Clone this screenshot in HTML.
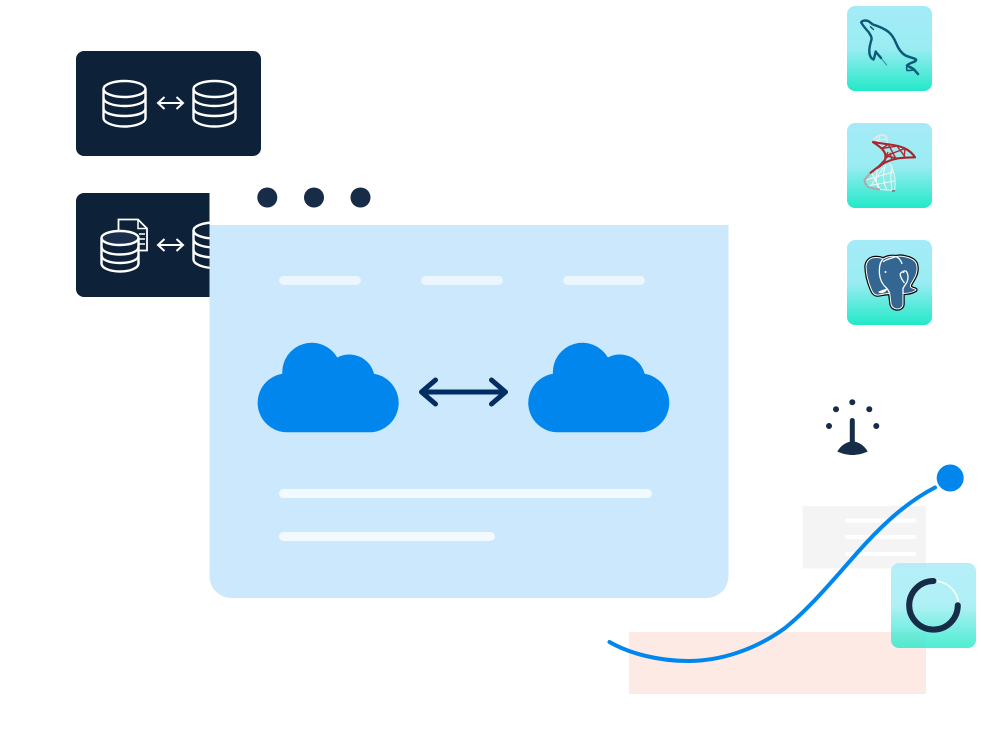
<!DOCTYPE html>
<html>
<head>
<meta charset="utf-8">
<style>
html,body{margin:0;padding:0;background:#fff;width:981px;height:739px;overflow:hidden}
svg{display:block}
</style>
</head>
<body>
<svg width="981" height="739" viewBox="0 0 981 739" xmlns="http://www.w3.org/2000/svg">
<defs>
<linearGradient id="g" x1="0" y1="0" x2="0" y2="1">
<stop offset="0" stop-color="#a5ebf8"/><stop offset=".5" stop-color="#9aecf2"/><stop offset="1" stop-color="#22e9c8"/>
</linearGradient>
<g id="db" fill="none" stroke="#fff" stroke-width="2.4">
<ellipse cx="22" cy="8.500" rx="21" ry="8"/>
<path d="M1 8.500V37.500C1 42 10.500 46 22 46S43 42 43 37.500V8.500"/>
<path d="M1 17.500C1 22 10.500 25.500 22 25.500S43 22 43 17.500"/>
<path d="M1 28C1 32.500 10.500 35.500 22 35.500S43 32.500 43 28"/>
</g>
<g id="ar" fill="none" stroke="#fff" stroke-width="2">
<path d="M1 7H26M7.500 1L1 7L7.500 13M19.500 1L26 7L19.500 13"/>
</g>
<path id="cloud" d="M287 432.300A29.500 29.500 0 0 1 282.300 373.700A29.500 29.500 0 0 1 337.300 357.500A25.500 25.500 0 0 1 374 373.700A29.500 29.500 0 0 1 369 432.300Z" fill="#0086ec"/>
</defs>

<!-- dark cards -->
<rect x="76" y="51" width="185" height="105" rx="8" fill="#0d2239"/>
<rect x="76" y="193" width="185" height="104" rx="8" fill="#0d2239"/>
<use href="#db" x="102.500" y="80.500"/>
<use href="#db" x="192.500" y="80.500"/>
<use href="#ar" x="157" y="96"/>
<use href="#ar" x="157" y="238"/>
<use href="#db" x="192.500" y="222"/>
<!-- doc + small db -->
<path d="M118.500 234V219.500H138L147 228.500V250.500H139" fill="#0d2239" stroke="#fff" stroke-width="1.800"/>
<path d="M138 219.500V228.500H147M139 234H145M139 239H145M139 244H145" fill="none" stroke="#fff" stroke-width="1.500"/>
<path d="M101.500 238V263.500C101.500 268 110 271.500 120 271.500S138.500 268 138.500 263.500V238" fill="#0d2239" stroke="#fff" stroke-width="2.400"/>
<ellipse cx="120" cy="238" rx="18.500" ry="7" fill="#1a2f4a" stroke="#fff" stroke-width="2.400"/>
<path d="M101.500 247C101.500 251.500 110 254.500 120 254.500S138.500 251.500 138.500 247M101.500 255.500C101.500 260 110 263 120 263S138.500 260 138.500 255.500" fill="none" stroke="#fff" stroke-width="2.400"/>

<!-- window -->
<rect x="209.500" y="170" width="530" height="56" fill="#fff"/>
<path d="M209.500 225H728.500V576A22 22 0 0 1 706.500 598H231.500A22 22 0 0 1 209.500 576Z" fill="#cbe8fd"/>
<circle cx="267.300" cy="197.500" r="10" fill="#162c47"/>
<circle cx="314" cy="197.500" r="10" fill="#162c47"/>
<circle cx="360.500" cy="197.500" r="10" fill="#162c47"/>
<g fill="#fff" fill-opacity=".62">
<rect x="279" y="276" width="82" height="9" rx="4.500"/>
<rect x="421" y="276" width="82" height="9" rx="4.500"/>
<rect x="563" y="276" width="82" height="9" rx="4.500"/>
</g>
<rect x="279" y="489" width="373" height="9" rx="4.500" fill="#fff" fill-opacity=".75"/>
<rect x="279" y="532" width="216" height="9" rx="4.500" fill="#fff" fill-opacity=".75"/>
<use href="#cloud"/>
<use href="#cloud" x="270.600"/>
<path d="M421.500 392H505.500M435.500 380L421.500 392L435.500 404M491.500 380L505.500 392L491.500 404" fill="none" stroke="#002d62" stroke-width="5" stroke-linecap="round" stroke-linejoin="round"/>

<!-- tiles -->
<rect x="847" y="6" width="85" height="85" rx="8" fill="url(#g)"/>
<rect x="847" y="123" width="85" height="85" rx="8" fill="url(#g)"/>
<rect x="847" y="240" width="85" height="85" rx="8" fill="url(#g)"/>

<!-- dolphin -->
<g fill="none" stroke="#0a5a78" stroke-linejoin="round" stroke-linecap="round">
<path d="M861.300 22.500C862 20.500 865 20.300 867.500 20.800C870 21.500 871 23.500 873 24.500C877 26 882 27 888 31.500C892 34.500 894 38 896 43C898 48 901 53 905.500 55.500C909 57.300 913 57.500 916 59.500C916.500 61 914 62 911 63C909.500 63.500 908 64.500 907 65.500C909 67 912 67.500 914 69.500C915.500 71 916.500 72.500 918 74" stroke-width="2.500"/>
<path d="M861.300 22.500C863 26 866 29 868.500 32C870.500 35 872 37 871.500 39.500C870.500 43 869.500 46 869.300 50C869.200 54 870 58 873.500 59.500C874.500 58 875 54 875.700 51.500C877 53.500 879 55.500 881 58" stroke-width="2.400"/>
<path d="M881 58L886.700 65" stroke-width="1" stroke-opacity=".6"/>
<path d="M907 65.500C906.500 67.500 906.500 69 907 70.500C910 70.500 913 70.500 914 69.500" stroke-width="1.600"/>
<path d="M870.500 26.800L873.500 29.500" stroke-width="1.400"/>
</g>

<!-- SQL server -->
<g fill="none" stroke-linejoin="round">
<path d="M872.300 141.700C876 136 880 134.500 885 135C886.500 137 887.300 140 887.500 144" stroke="#dfe6e9" stroke-width="2"/>
<path d="M876 137L881 147M880 135L878 145M886 139L875 141" stroke="#eceff0" stroke-width=".8"/>
<path d="M870 173.300L864.500 180C864.500 183 866 185 868 186.500C873 189 882 190 894.500 190.300C896 182 895 172 890 163.500" fill="#c6eef2" fill-opacity=".3" stroke="#f0f3f4" stroke-width="1"/>
<path d="M878 168C875 176 876 184 879 189.500M886 165C882 172 883 183 887 190M892 167C890 174 891 183 892 190M866 180L893 172M868 186L894 181M871 172L880 189M884 167L870 187" fill="none" stroke="#f4f6f6" stroke-width="1"/>
<path d="M870 173.300L864.500 180C864.500 183 866 185 868 186.500C871 188 875 189 880 189.500" stroke="#a9adb2" stroke-width="2.200"/>
<path d="M892 190.800H895" stroke="#4a5a60" stroke-width="1.200"/>
<path d="M872.300 141.700C879 143 884 144 888.300 144.300C895 145 900 146 905 148.500C910 151 913 154 915 157.300C909 157.500 904 157.500 898.300 158.300C892 159.300 888 161 883.300 163.500C878 166.500 874 170 870 173.300" stroke="#a8252b" stroke-width="2.100"/>
<path d="M872.300 141.700C876 144 879 146 881.700 148.500C884 151 885.500 153 885.500 156C885.500 159 884.500 161.500 883.300 163.500C881 165.500 878 167.500 876.500 168.500" stroke="#a8252b" stroke-width="2.100"/>
<path d="M881.700 148.500L888.300 144.300L896 158.800M881.700 148.500L897 146M885.500 156L905 148.500M885.500 156L898.300 158.300M888 152L883.300 163.500M897 146L905.500 157.500M905 148.500L904 157.700M890 153L892 160M876.500 168.500L891 153" stroke="#b02a30" stroke-width="1.400"/>
</g>

<!-- elephant -->
<g stroke-linejoin="round">
<path d="M866 266C867 260 871 257.500 876 257.500C879 257.500 881.500 258 883 259C887 256.500 892 256 896 256.500C899 256 903 256 906 257C911 258 915 260.500 916.500 264C917.500 268 917 273 915 277C913.500 280 911.500 283 910.500 285C910 287 911.500 288 913.500 288.500C915.500 289 916.500 289.500 915.500 290.500C913 292 908 293.500 903 293.500V304C903 307 900.500 309 897.500 309C894 309 891.500 307 891 304L889.700 293.500C886 293.500 882 294.500 878.500 295C875.500 295.500 873 293.500 871.500 290C868.500 283 866 275 866 266Z" fill="#000" stroke="#000" stroke-width="3.400"/>
<path d="M866 266C867 260 871 257.500 876 257.500C879 257.500 881.500 258 883 259C887 256.500 892 256 896 256.500C899 256 903 256 906 257C911 258 915 260.500 916.500 264C917.500 268 917 273 915 277C913.500 280 911.500 283 910.500 285C910 287 911.500 288 913.500 288.500C915.500 289 916.500 289.500 915.500 290.500C913 292 908 293.500 903 293.500V304C903 307 900.500 309 897.500 309C894 309 891.500 307 891 304L889.700 293.500C886 293.500 882 294.500 878.500 295C875.500 295.500 873 293.500 871.500 290C868.500 283 866 275 866 266Z" fill="#336791" stroke="#fff" stroke-width="1"/>
<path d="M883 259C880 262 879 268 879.500 274C880 280 883 285 886.500 288C888 289.500 889 291.500 889.700 293.500M896 256.500C890 259 885 259.500 883 262M896 256.500C899 258 901 260 902 264M900 274C902 271.500 905 270 906.500 271.500C908 274 908.500 278 907 282C906 284 904 286 903 288.500V293.500M900 274C900.500 277 902 280 904.500 283" fill="none" stroke="#fff" stroke-width="1.300"/>
<path d="M878 292C880 290.500 884 289.500 887 288.500C887.500 290 886 291.500 884 292.500C882 293.500 880 293.500 878 292Z" fill="#fff"/>
<circle cx="885.500" cy="272" r="1" fill="#fff"/><circle cx="903.500" cy="272" r="1" fill="#fff"/>
</g>

<!-- lamp -->
<g fill="#162c47">
<circle cx="852.300" cy="402.300" r="3"/><circle cx="836" cy="409.300" r="3"/><circle cx="869.300" cy="409.300" r="3"/>
<circle cx="829" cy="426" r="3"/><circle cx="876.300" cy="426" r="3"/>
<rect x="849.800" y="418" width="5" height="27" rx="2.500"/>
<path d="M837.300 451.500C841 445 847 441.500 852.500 441.500S864 445 867.700 451.500C862 454 857 455 852.500 455S843 454 837.300 451.500Z"/>
</g>

<!-- chart -->
<rect x="802.500" y="506" width="123.500" height="62.500" fill="#f4f4f4"/>
<g fill="#fff">
<rect x="845" y="518.500" width="71.500" height="4" rx="2"/>
<rect x="845" y="535" width="71.500" height="4" rx="2"/>
<rect x="845" y="552" width="71.500" height="4" rx="2"/>
</g>
<rect x="629" y="632" width="297" height="62" fill="#fdeae5"/>
<path d="M609.500 642C630 654 660 661 688 661C720 661 755 650 785 628C810 608 835 578 857 553C880 527 905 503 935 487.500" fill="none" stroke="#0086ec" stroke-width="4" stroke-linecap="round"/>
<circle cx="950.200" cy="478" r="13.500" fill="#0086ec"/>

<!-- ring tile -->
<rect x="891" y="563" width="85" height="85" rx="8" fill="url(#g)" fill-opacity=".8"/>
<path d="M935 581C948 581.500 958 592 958.500 604" fill="none" stroke="#fff" stroke-width="1.500"/>
<path d="M933.500 581A24.300 24.300 0 1 0 957.800 605.300" fill="none" stroke="#162c47" stroke-width="6" stroke-linecap="round"/>
</svg>
</body>
</html>
